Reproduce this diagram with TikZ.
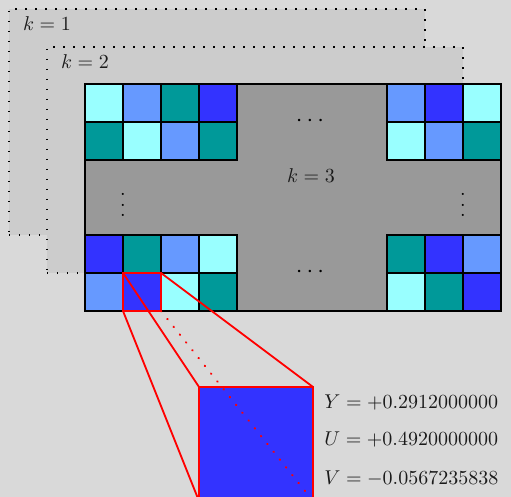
\documentclass[tikz,border=0pt]{standalone}
\usepackage{xcolor}
\definecolor{bg}{HTML}{D9D9D9}
\definecolor{layer}{HTML}{CCCCCC}
\definecolor{midgray}{HTML}{999999}
\definecolor{cA}{HTML}{99FFFF}
\definecolor{cB}{HTML}{6699FF}
\definecolor{cC}{HTML}{009999}
\definecolor{cD}{HTML}{3333FF}
\definecolor{ink}{HTML}{1A1A1A}
\newcommand{\myvdots}{\vbox{\baselineskip=5.25pt\lineskiplimit=0pt\hbox{.}\hbox{.}\hbox{.}}}
\begin{document}
\begin{tikzpicture}[x=0.5pt,y=-0.5pt,
  cell/.style={draw=black,line width=1pt,minimum size=19pt,inner sep=0pt,outer sep=0pt,anchor=north west},
  layerbox/.style={draw=black,fill=layer,line width=0.75pt,dash pattern=on 0.75pt off 4.25pt,minimum width=208pt,minimum height=113pt,inner sep=0pt,outer sep=0pt,anchor=north west},
  mainbox/.style={draw=black,fill=midgray,line width=1pt,minimum width=208pt,minimum height=113.5pt,inner sep=0pt,outer sep=0pt,anchor=north west},
  klabel/.style={text=ink,font=\fontsize{10.4}{12}\selectfont,inner sep=0pt},
  vallabel/.style={text=ink,font=\fontsize{9.9}{12}\selectfont,inner sep=0pt,anchor=base west},
  dotslabel/.style={text=black,font=\fontsize{11.8}{14}\selectfont,inner sep=0pt},
  zoomline/.style={draw=red,line width=0.9pt},
  zoomdots/.style={draw=red,line width=1pt,line cap=round,dash pattern=on 0.3pt off 4.7pt},
]
\useasboundingbox (0,0) rectangle (511,497);
\clip (0,0) rectangle (511,497);
\fill[bg] (0,0) rectangle (511,497);

% layers
\node[layerbox] (k1box) at (9,9) {};
\node[klabel] (k1) at (47,24) {$k=1$};
\node[layerbox] (k2box) at (47,47) {};
\node[klabel] (k2) at (85,62) {$k=2$};
\node[mainbox] (main) at (85,84) {};

% top-left block
\foreach \c [count=\i from 0] in {cA,cB,cC,cD}
  \node[cell,fill=\c] (tlA\i) at ({85+38*\i},84) {};
\foreach \c [count=\i from 0] in {cC,cA,cB,cC}
  \node[cell,fill=\c] (tlB\i) at ({85+38*\i},122) {};
% top-right block
\foreach \c [count=\i from 0] in {cB,cD,cA}
  \node[cell,fill=\c] (trA\i) at ({387+38*\i},84) {};
\foreach \c [count=\i from 0] in {cA,cB,cC}
  \node[cell,fill=\c] (trB\i) at ({387+38*\i},122) {};
% bottom-left block
\foreach \c [count=\i from 0] in {cD,cC,cB,cA}
  \node[cell,fill=\c] (blA\i) at ({85+38*\i},235) {};
\foreach \c [count=\i from 0] in {cB,cD,cA,cC}
  \node[cell,fill=\c] (blB\i) at ({85+38*\i},273) {};
% bottom-right block
\foreach \c [count=\i from 0] in {cC,cD,cB}
  \node[cell,fill=\c] (brA\i) at ({387+38*\i},235) {};
\foreach \c [count=\i from 0] in {cA,cC,cD}
  \node[cell,fill=\c] (brB\i) at ({387+38*\i},273) {};

% labels and dots inside the main layer
\node[klabel] (k3) at (311,176) {$k=3$};
\node[dotslabel] (dtop) at (310,121) {$\cdots$};
\node[dotslabel] (dbot) at (310,272) {$\cdots$};
\node[inner sep=0pt] (dleft) at (123,205) {\myvdots};
\node[inner sep=0pt] (dright) at (463,205) {\myvdots};

% highlighted cell
\draw[draw=red,line width=1.2pt] (blB1.north west) rectangle (blB1.south east);

% magnified square
\node[draw=red,fill=cD,line width=1pt,minimum size=57pt,inner sep=0pt,outer sep=0pt,anchor=north west] (zoomsq) at (199,387) {};

\draw[zoomline] (blB1.north west) -- (zoomsq.north west);
\draw[zoomline] (blB1.south west) -- (zoomsq.south west);
\draw[zoomline] (blB1.north east) -- (zoomsq.north east);
\draw[zoomdots] (blB1.south east) -- (zoomsq.south east);

% values
\node[vallabel] (vY) at (324,409) {$Y=+0.2912000000$};
\node[vallabel] (vU) at (324,446) {$U=+0.4920000000$};
\node[vallabel] (vV) at (324,485) {$V=-0.0567235838$};
\end{tikzpicture}
\end{document}
